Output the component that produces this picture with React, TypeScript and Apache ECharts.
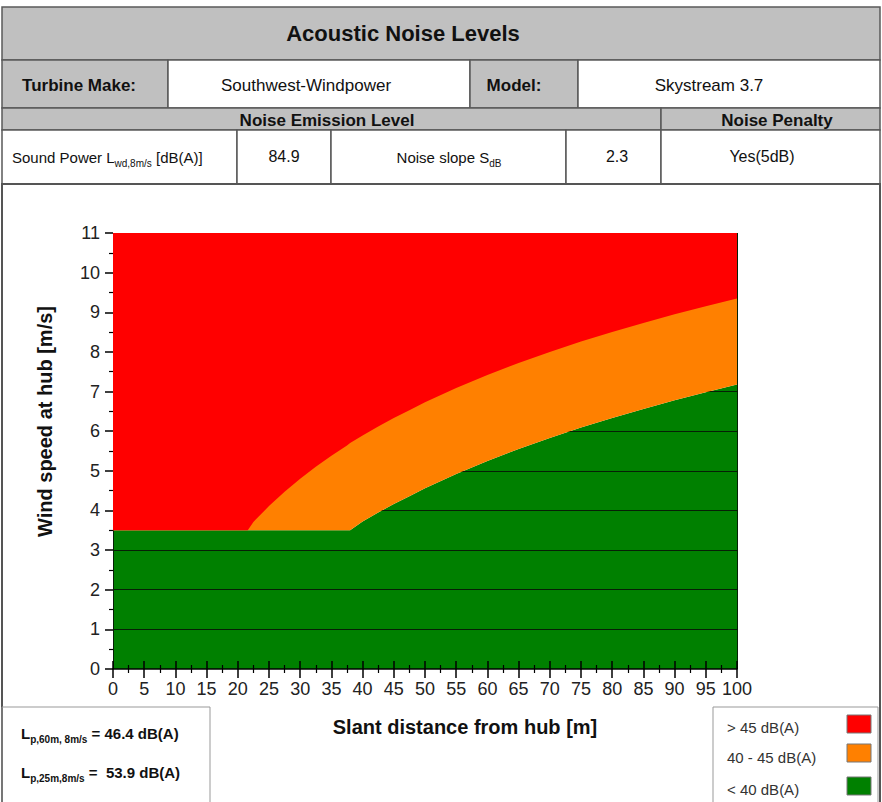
import React, { useEffect, useRef } from "react";
import * as echarts from "echarts";

// ---- data ----
const distance = [0, 10, 20, 21.6, 22.5, 25, 27.5, 30, 32.5, 35, 37.5, 38, 40, 42.5, 45, 47.5, 50, 55, 60, 65, 70, 75, 80, 85, 90, 95, 100];
// lower edge of the > 45 dB(A) zone (wind speed, m/s)
const speed45 = [3.5, 3.5, 3.5, 3.5, 3.71, 4.11, 4.47, 4.8, 5.1, 5.38, 5.64, 5.7, 5.89, 6.12, 6.33, 6.53, 6.73, 7.09, 7.42, 7.72, 8.0, 8.26, 8.5, 8.73, 8.95, 9.15, 9.35];
// upper edge of the < 40 dB(A) zone (wind speed, m/s)
const speed40 = [3.5, 3.5, 3.5, 3.5, 3.5, 3.5, 3.5, 3.5, 3.5, 3.5, 3.5, 3.5, 3.72, 3.95, 4.16, 4.36, 4.56, 4.92, 5.25, 5.55, 5.83, 6.09, 6.33, 6.56, 6.78, 6.98, 7.18];
const xRange = [0, 100];
const yRange = [0, 11];
const gridLevels = [1, 2, 3, 4, 5, 6, 7, 8, 9, 10];
const zoneLabels = ["> 45 dB(A)", "40 - 45 dB(A)", "< 40 dB(A)"];
const zoneColors = ["#ff0000", "#ff8000", "#008000"];
const turbineMake = "Southwest-Windpower";
const turbineModel = "Skystream 3.7";
const soundPower = "84.9";
const noiseSlope = "2.3";
const noisePenalty = "Yes(5dB)";
const levelAt60 = "46.4";
const levelAt25 = "53.9";

const FONT = '"Liberation Sans", Arial, Helvetica, sans-serif';
const GRAY = "#c0c0c0";
const BORDER = "#5a5a5a";

const box = (x: number, y: number, w: number, h: number, fill: string, stroke = BORDER, lw = 1.5) => ({
  type: "rect",
  shape: { x, y, width: w, height: h },
  style: { fill, stroke, lineWidth: lw },
  silent: true,
});

const txt = (text: string, x: number, y: number, size: number, weight = "normal", align = "center", fill = "#111") => ({
  type: "text",
  x,
  y,
  style: { text, fontSize: size, fontWeight: weight, fontFamily: FONT, fill, align, verticalAlign: "middle" },
  silent: true,
});

const rich = (text: string, x: number, y: number, size: number, subSize: number, weight: string, align = "left") => ({
  type: "text",
  x,
  y,
  style: {
    text,
    align,
    verticalAlign: "middle",
    fontFamily: FONT,
    rich: {
      n: { fontSize: size, fontWeight: weight, fontFamily: FONT, fill: "#111", lineHeight: size + 8 },
      s: { fontSize: subSize, fontWeight: weight, fontFamily: FONT, fill: "#111", verticalAlign: "bottom" },
    },
  },
  silent: true,
});

export default function App() {
  const ref = useRef<HTMLDivElement>(null);

  useEffect(() => {
    if (!ref.current) return;
    const chart = echarts.init(ref.current, null, { renderer: "svg" });
    const pairs = (ys: number[]) => distance.map((d, i) => [d, ys[i]]);

    const legendY = [727, 757, 789];
    const swatchY = [724, 753, 786];

    const graphic: any[] = [
      // header table
      box(2, 7, 878, 53, GRAY),
      txt("Acoustic Noise Levels", 403, 33, 22, "bold"),
      box(2, 60, 166, 48, GRAY),
      box(168, 60, 302, 48, "#fff"),
      box(470, 60, 108, 48, GRAY),
      box(578, 60, 302, 48, "#fff"),
      txt("Turbine Make:", 79, 85, 17, "bold"),
      txt(turbineMake, 306, 85, 17),
      txt("Model:", 514, 85, 17, "bold"),
      txt(turbineModel, 709, 85, 17),
      box(2, 108, 659, 22, GRAY),
      box(661, 108, 219, 22, GRAY),
      txt("Noise Emission Level", 327, 120, 17, "bold"),
      txt("Noise Penalty", 777, 120, 17, "bold"),
      box(2, 130, 235, 54, "#fff"),
      box(237, 130, 94, 54, "#fff"),
      box(331, 130, 235, 54, "#fff"),
      box(566, 130, 95, 54, "#fff"),
      box(661, 130, 219, 54, "#fff"),
      rich("{n|Sound Power L}{s|wd,8m/s}{n| [dB(A)]}", 12, 157, 15, 10, "normal"),
      txt(soundPower, 284, 156, 16),
      rich("{n|Noise slope S}{s|dB}", 449, 157, 15, 10, "normal", "center"),
      txt(noiseSlope, 617, 156, 16),
      txt(noisePenalty, 762, 156, 16),
      // chart frame
      box(2, 184, 878, 640, "rgba(0,0,0,0)", "#555", 2),
      box(2, 707, 208, 110, "rgba(0,0,0,0)", "#999", 1),
      box(713, 707, 165, 110, "rgba(0,0,0,0)", "#999", 1),
      rich(`{n|L}{s|p,60m, 8m/s}{n| = ${levelAt60} dB(A)}`, 21, 733, 15, 10, "bold"),
      rich(`{n|L}{s|p,25m,8m/s}{n| =  ${levelAt25} dB(A)}`, 21, 772, 15, 10, "bold"),
    ];
    zoneLabels.forEach((label, i) => {
      graphic.push(txt(label, 727, legendY[i], 15, "normal", "left", "#333"));
      graphic.push({
        type: "rect",
        shape: { x: 847, y: swatchY[i] - 9, width: 24, height: 18 },
        style: { fill: zoneColors[i], stroke: "#777", lineWidth: 1 },
        silent: true,
      });
    });

    const gridLines = [
      ...gridLevels.map((k) => ({ coords: [[xRange[0], k], [xRange[1], k]] })),
      { coords: [[xRange[0], yRange[0]], [xRange[0], yRange[1]]] },
      { coords: [[xRange[1], yRange[0]], [xRange[1], yRange[1]]] },
    ];

    const tickLabel = { fontSize: 18, color: "#222", fontFamily: FONT };

    chart.setOption({
      animation: false,
      textStyle: { fontFamily: FONT },
      graphic,
      grid: { left: 113, right: 145, top: 233, bottom: 133, containLabel: false, outerBoundsMode: "none" },
      xAxis: [
        {
          type: "value",
          min: xRange[0],
          max: xRange[1],
          interval: 5,
          position: "bottom",
          z: 10,
          name: "Slant distance from hub [m]",
          nameLocation: "middle",
          nameGap: 48,
          nameTextStyle: { fontSize: 20, fontWeight: "bold", color: "#111", fontFamily: FONT, padding: [0, 0, 0, 80] },
          axisLine: { show: true, lineStyle: { color: "#000", width: 1.5 } },
          axisTick: { show: true, length: 9, lineStyle: { color: "#000", width: 1.5 } },
          minorTick: { show: true, splitNumber: 2, length: 4, lineStyle: { color: "#000", width: 1.2 } },
          axisLabel: { ...tickLabel, margin: 11 },
          splitLine: { show: false },
        },
        {
          type: "value",
          min: xRange[0],
          max: xRange[1],
          interval: 5,
          position: "bottom",
          z: 10,
          axisLine: { show: false },
          axisTick: { show: true, inside: true, length: 8, lineStyle: { color: "#000", width: 1.5 } },
          minorTick: { show: true, splitNumber: 2, length: 4, lineStyle: { color: "#000", width: 1.2 } },
          axisLabel: { show: false },
          splitLine: { show: false },
        },
      ],
      yAxis: {
        type: "value",
        min: yRange[0],
        max: yRange[1],
        interval: 1,
        name: "Wind speed at hub [m/s]",
        nameLocation: "middle",
        nameGap: 58,
        nameRotate: 90,
        nameTextStyle: { fontSize: 20, fontWeight: "bold", color: "#111", fontFamily: FONT, padding: [0, 0, 0, 59] },
        axisLine: { show: false },
        axisTick: { show: true, length: 8, lineStyle: { color: "#000", width: 1.5 } },
        minorTick: { show: true, splitNumber: 2, length: 4, lineStyle: { color: "#000", width: 1.2 } },
        axisLabel: { ...tickLabel, margin: 13 },
        splitLine: { show: false },
      },
      series: [
        {
          name: zoneLabels[2],
          type: "line",
          data: pairs(speed40),
          symbol: "none",
          lineStyle: { width: 0, opacity: 0 },
          areaStyle: { color: zoneColors[2], opacity: 1, origin: "start" },
          z: 1,
          silent: true,
        },
        {
          type: "lines",
          coordinateSystem: "cartesian2d",
          data: gridLines,
          lineStyle: { color: "#062006", width: 1, opacity: 1 },
          z: 2,
          silent: true,
        },
        {
          name: zoneLabels[1],
          type: "line",
          data: pairs(speed40),
          symbol: "none",
          lineStyle: { width: 0, opacity: 0 },
          areaStyle: { color: zoneColors[1], opacity: 1, origin: "end" },
          z: 3,
          silent: true,
        },
        {
          name: zoneLabels[0],
          type: "line",
          data: pairs(speed45),
          symbol: "none",
          lineStyle: { width: 0, opacity: 0 },
          areaStyle: { color: zoneColors[0], opacity: 1, origin: "end" },
          z: 4,
          silent: true,
        },
      ],
    });

    return () => chart.dispose();
  }, []);

  return <div ref={ref} style={{ position: "absolute", left: 0, top: 0, width: 882, height: 802 }} />;
}
